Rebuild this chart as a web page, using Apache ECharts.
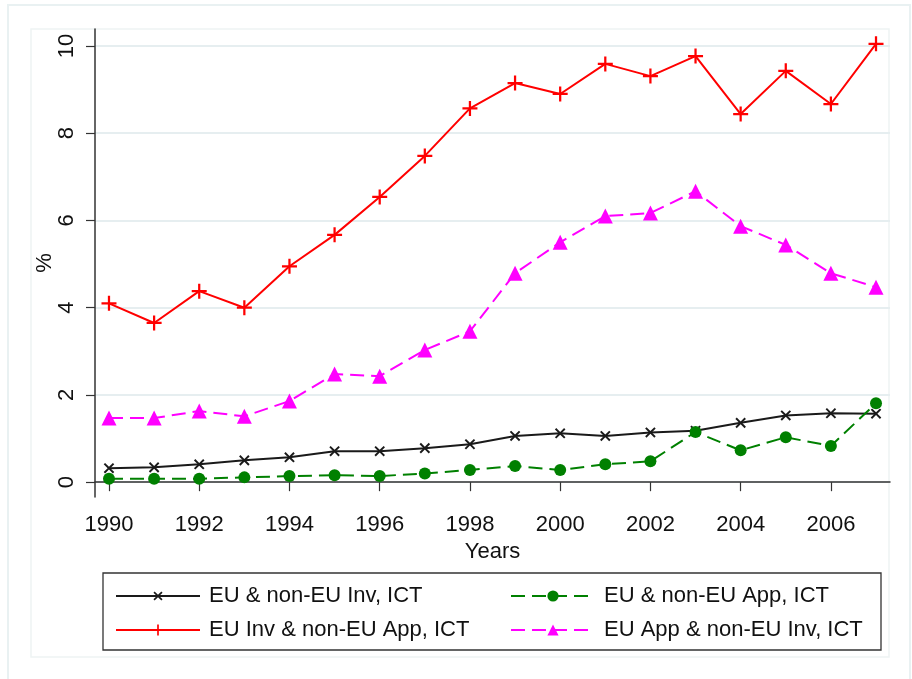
<html>
<head>
    <meta charset="utf-8">
</head>
<body style="margin:0;background:#fff">
    <script src="https://cdn.jsdelivr.net/npm/echarts@6/dist/echarts.min.js"></script>
    <div id="main" style="width: 912px;height: 679px"></div>
    <script>

var years = [1990, 1991, 1992, 1993, 1994, 1995, 1996, 1997, 1998, 1999,
             2000, 2001, 2002, 2003, 2004, 2005, 2006, 2007];

var names = ['EU & non-EU Inv, ICT', 'EU & non-EU App, ICT',
             'EU Inv & non-EU App, ICT', 'EU App & non-EU Inv, ICT'];

// values, in %
var euNonEuInv  = [0.32, 0.34, 0.41, 0.50, 0.57, 0.71, 0.71, 0.78, 0.87, 1.06,
                   1.12, 1.06, 1.14, 1.18, 1.36, 1.53, 1.58, 1.57];
var euNonEuApp  = [0.08, 0.08, 0.08, 0.11, 0.14, 0.16, 0.14, 0.20, 0.28, 0.37,
                   0.28, 0.41, 0.48, 1.15, 0.73, 1.03, 0.83, 1.81];
var euInvNonApp = [4.10, 3.65, 4.38, 4.00, 4.95, 5.67, 6.54, 7.48, 8.57, 9.15,
                   8.90, 9.59, 9.31, 9.77, 8.44, 9.43, 8.67, 10.05];
var euAppNonInv = [1.47, 1.47, 1.63, 1.51, 1.86, 2.48, 2.43, 3.03, 3.46, 4.79,
                   5.50, 6.10, 6.17, 6.67, 5.87, 5.44, 4.79, 4.47];

var xTicks = [1990, 1992, 1994, 1996, 1998, 2000, 2002, 2004, 2006];
var yTicks = [0, 2, 4, 6, 8, 10];

var plus = 'path://M8.5,0H11.5V8.5H20V11.5H11.5V20H8.5V11.5H0V8.5H8.5Z';
var font = '"Liberation Sans", Arial, sans-serif';

function pairs(vals) {
    return years.map(function (y, i) { return [y, vals[i]]; });
}

var myChart = echarts.init(document.getElementById('main'));

option = {
    backgroundColor: '#fff',
    animation: false,
    textStyle: { fontFamily: font },
    graphic: [
        { type: 'rect', shape: { x: 8, y: 5, width: 902, height: 700 },
          style: { fill: 'none', stroke: '#e9f1f2', lineWidth: 2 }, z: -10 },
        { type: 'rect', shape: { x: 31, y: 29, width: 858, height: 628 },
          style: { fill: 'none', stroke: '#eef4f4', lineWidth: 1.5 }, z: -10 },
        { type: 'rect', shape: { x: 103, y: 573, width: 778, height: 77 },
          style: { fill: '#fff', stroke: '#333', lineWidth: 1.3 }, z: -5 }
    ],
    grid: { left: 95, top: 29, right: 22, bottom: 182 },
    legend: [{
        data: [names[0], names[2]],
        orient: 'vertical',
        left: 110, top: 580,
        itemWidth: 84, itemHeight: 14, itemGap: 12,
        textStyle: { fontSize: 22, color: '#111', fontFamily: font, padding: [0, 0, 0, 4] }
    }, {
        data: [names[1], names[3]],
        orient: 'vertical',
        left: 505, top: 580,
        itemWidth: 84, itemHeight: 14, itemGap: 12,
        textStyle: { fontSize: 22, color: '#111', fontFamily: font, padding: [0, 0, 0, 4] }
    }],
    xAxis: {
        type: 'value',
        min: 1989.69, max: 2007.31,
        name: 'Years',
        nameLocation: 'middle',
        nameGap: 38,
        nameTextStyle: { fontSize: 22, color: '#111' },
        axisLine: { lineStyle: { color: '#333', width: 1.5 } },
        axisTick: { customValues: xTicks, length: 9, lineStyle: { color: '#333', width: 1.2 } },
        axisLabel: {
            customValues: xTicks, margin: 17, fontSize: 22, color: '#111',
            formatter: function (v) { return String(v); }
        },
        splitLine: { show: false }
    },
    yAxis: {
        type: 'value',
        min: -0.34, max: 10.39,
        name: '%',
        nameLocation: 'middle',
        nameRotate: 90,
        nameGap: 39,
        nameMoveOverlap: false,
        nameTextStyle: { fontSize: 22, color: '#111' },
        axisLine: { show: true, lineStyle: { color: '#333', width: 1.5 } },
        axisTick: { show: true, customValues: yTicks, length: 9, lineStyle: { color: '#333', width: 1.2 } },
        axisLabel: {
            customValues: yTicks, rotate: 90, margin: 17, fontSize: 22, color: '#111',
            formatter: function (v) { return String(v); }
        },
        splitLine: { show: true, lineStyle: { color: '#e6eef0', width: 2 } }
    },
    series: [{
        name: names[0],
        type: 'line',
        data: pairs(euNonEuInv),
        symbol: plus, symbolSize: 13, symbolRotate: 45,
        itemStyle: { color: '#1a1a1a' },
        lineStyle: { color: '#1a1a1a', width: 2 }
    }, {
        name: names[1],
        type: 'line',
        data: pairs(euNonEuApp),
        symbol: 'circle', symbolSize: 12,
        itemStyle: { color: '#008000' },
        lineStyle: { color: '#008000', width: 2, type: [14, 7] }
    }, {
        name: names[2],
        type: 'line',
        data: pairs(euInvNonApp),
        symbol: plus, symbolSize: 15,
        itemStyle: { color: '#ff0000' },
        lineStyle: { color: '#ff0000', width: 2 }
    }, {
        name: names[3],
        type: 'line',
        data: pairs(euAppNonInv),
        symbol: 'triangle', symbolSize: 15,
        itemStyle: { color: '#ff00ff' },
        lineStyle: { color: '#ff00ff', width: 2, type: [14, 7] }
    }]
};

myChart.setOption(option);

</script>
</body>
</html>
